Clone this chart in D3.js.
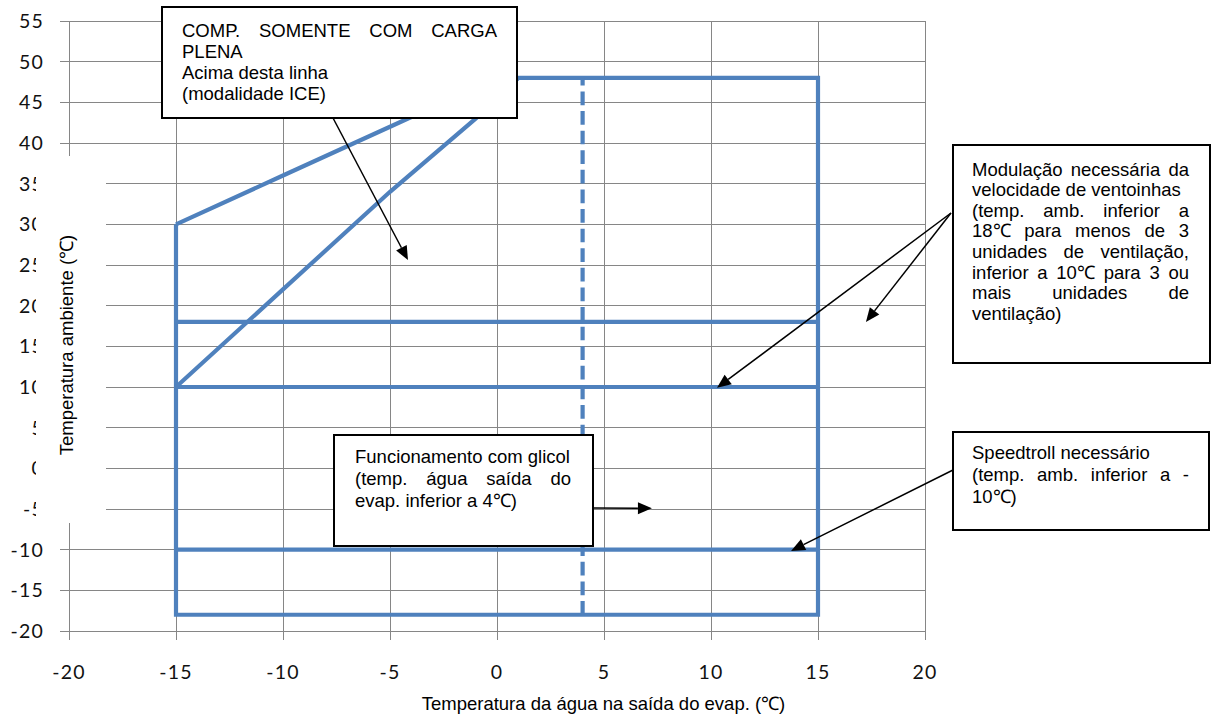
<!DOCTYPE html>
<html><head><meta charset="utf-8">
<script src="https://cdn.jsdelivr.net/npm/d3@7"></script>
<style>body{margin:0;background:#fff} svg{display:block}</style>
</head><body>
<svg id="chart" width="1212" height="718"></svg>
<script>
// ---------- data ----------
const xTicks = [-20, -15, -10, -5, 0, 5, 10, 15, 20];
const yTicks = [-20, -15, -10, -5, 0, 5, 10, 15, 20, 25, 30, 35, 40, 45, 50, 55];
// operating envelope outline (water outlet °C, ambient °C)
const outlineX = [0, 15, 15, -15, -15];
const outlineY = [48, 48, -18, -18, 30];
// full-load-only limit (upper)
const upperLimitX = [-15, -10, -5, 0];
const upperLimitY = [30, 36, 42, 48];
// full-load-only limit (lower diagonal)
const lowerLimitX = [-15, -10, -5, -1, 1];
const lowerLimitY = [10, 22, 34, 43, 48];
// horizontal limit lines (ambient °C), spanning water -15..15
const hLineY = [18, 10, -10];
const hLineX = [-15, 15];
// glycol limit (dashed, water 4 °C)
const glycolX = [4, 4];
const glycolY = [-18, 48];
// arrow targets (data coordinates)
const arrowTipX = [-4.16, 10.28, 17.24, 13.74, 7.24];
const arrowTipY = [25.6, 9.9, 18.0, -10.15, -4.9];

const xTitle = "Temperatura da água na saída do evap. (℃)";
const yTitle = "Temperatura ambiente (℃)";

// ---------- layout ----------
const svg = d3.select("#chart");
const X0 = 69, X1 = 925, YT = 21, YB = 631;
const x = d3.scaleLinear().domain([-20, 20]).range([X0, X1]);
const y = d3.scaleLinear().domain([-20, 55]).range([YB, YT]);
const gridColor = "#868686";
const blue = "#4F81BD";
const textFont = "'Liberation Sans', Arial, sans-serif";
const tickFont = "Lato, 'Open Sans', sans-serif";

// grid
const grid = svg.append("g");
grid.selectAll("line.v").data(xTicks).join("line")
  .attr("x1", d => x(d)).attr("x2", d => x(d))
  .attr("y1", y(55)).attr("y2", YB + 9)
  .attr("stroke", gridColor).attr("stroke-width", 1).attr("shape-rendering", "crispEdges");
grid.selectAll("line.h").data(yTicks).join("line")
  .attr("x1", X0 - 9).attr("x2", x(20))
  .attr("y1", d => y(d)).attr("y2", d => y(d))
  .attr("stroke", gridColor).attr("stroke-width", 1).attr("shape-rendering", "crispEdges");

// tick labels
svg.append("g").selectAll("text").data(yTicks).join("text")
  .attr("x", 44).attr("y", d => y(d)).attr("dy", "0.36em")
  .attr("text-anchor", "end").attr("font-family", tickFont).attr("font-size", 19.5)
  .attr("letter-spacing", 1.2).attr("fill", "#111")
  .text(d => String(d));
svg.append("g").selectAll("text").data(xTicks).join("text")
  .attr("x", d => x(d)).attr("y", 679)
  .attr("text-anchor", "middle").attr("font-family", tickFont).attr("font-size", 19.5)
  .attr("letter-spacing", 1.2).attr("fill", "#111")
  .text(d => String(d));

// white mask over part of the left axis (as in the reference)
svg.append("rect").attr("x", 36).attr("y", 156).attr("width", 70).attr("height", 367).attr("fill", "#fff");

// series
const line = d3.line().x(d => x(d[0])).y(d => y(d[1]));
const series = svg.append("g").attr("fill", "none").attr("stroke", blue).attr("stroke-width", 4.2);
series.append("path").attr("d", line(outlineX.map((v, i) => [v, outlineY[i]]))).attr("stroke-linejoin", "miter");
series.append("path").attr("d", line(upperLimitX.map((v, i) => [v, upperLimitY[i]])));
series.append("path").attr("d", line(lowerLimitX.map((v, i) => [v, lowerLimitY[i]])));
hLineY.forEach(v => series.append("path").attr("d", line(hLineX.map(h => [h, v]))));
series.append("path").attr("d", line(glycolX.map((v, i) => [v, glycolY[i]])))
  .attr("stroke-dasharray", "13.7 5.9");

// ---------- annotations ----------
const ann = svg.append("g");
function arrow(x1, y1, tx, ty) {
  const ang = Math.atan2(ty - y1, tx - x1);
  const L = 14, W = 6;
  const bx = tx - L * Math.cos(ang), by = ty - L * Math.sin(ang);
  ann.append("line").attr("x1", x1).attr("y1", y1).attr("x2", bx).attr("y2", by)
    .attr("stroke", "#000").attr("stroke-width", 1.5);
  const px = -Math.sin(ang) * W, py = Math.cos(ang) * W;
  ann.append("path").attr("d", `M${tx},${ty}L${bx + px},${by + py}L${bx - px},${by - py}Z`).attr("fill", "#000");
}
function box(bx, by, bw, bh, tx, tw, base, lh, lines) {
  const g = ann.append("g");
  g.append("rect").attr("x", bx).attr("y", by).attr("width", bw).attr("height", bh)
    .attr("fill", "#fff").attr("stroke", "#000").attr("stroke-width", 2);
  lines.forEach((ln, i) => {
    const yy = base + i * lh;
    const t = typeof ln === "string" ? { t: ln, j: false } : ln;
    if (!t.j) {
      g.append("text").attr("x", tx).attr("y", yy).attr("font-family", textFont)
        .attr("font-size", 18.5).attr("fill", "#000").text(t.t);
      return;
    }
    const words = t.t.split(/\s+/);
    const nodes = words.map(w => g.append("text").attr("y", yy).attr("font-family", textFont)
      .attr("font-size", 18.5).attr("fill", "#000").text(w));
    const widths = nodes.map(n => n.node().getComputedTextLength());
    const gap = (tw - d3.sum(widths)) / (words.length - 1);
    let cx = tx;
    nodes.forEach((n, k) => { n.attr("x", cx); cx += widths[k] + gap; });
  });
}

// arrows first (drawn beneath boxes)
arrow(333, 118, x(arrowTipX[0]), y(arrowTipY[0]));
arrow(951, 213, x(arrowTipX[1]), y(arrowTipY[1]));
arrow(951, 213, x(arrowTipX[2]), y(arrowTipY[2]));
arrow(953, 470, x(arrowTipX[3]), y(arrowTipY[3]));
arrow(593, 508, x(arrowTipX[4]), y(arrowTipY[4]));

box(162, 7, 355, 111, 182, 315, 37, 21, [
  { t: "COMP. SOMENTE COM CARGA", j: true },
  "PLENA",
  "Acima desta linha",
  "(modalidade ICE)"
]);
box(334, 435, 259, 111, 355, 216, 463, 22, [
  "Funcionamento com glicol",
  { t: "(temp. água saída do", j: true },
  "evap. inferior a 4℃)"
]);
box(953, 145, 257, 218, 972, 217, 175.5, 20.6, [
  { t: "Modulação necessária da", j: true },
  "velocidade de ventoinhas",
  { t: "(temp. amb. inferior a", j: true },
  { t: "18℃ para menos de 3", j: true },
  { t: "unidades de ventilação,", j: true },
  { t: "inferior a 10℃ para 3 ou", j: true },
  { t: "mais unidades de", j: true },
  "ventilação)"
]);
box(953, 432, 256, 98, 972, 217, 459, 22, [
  "Speedtroll necessário",
  { t: "(temp. amb. inferior a -", j: true },
  "10℃)"
]);

// axis titles
svg.append("text").attr("x", 603.5).attr("y", 710).attr("text-anchor", "middle")
  .attr("font-family", textFont).attr("font-size", 18.5).attr("fill", "#000").text(xTitle);
svg.append("text").attr("transform", "translate(73,345) rotate(-90)").attr("text-anchor", "middle")
  .attr("font-family", textFont).attr("font-size", 18.5).attr("fill", "#000").text(yTitle);
</script>
</body></html>
